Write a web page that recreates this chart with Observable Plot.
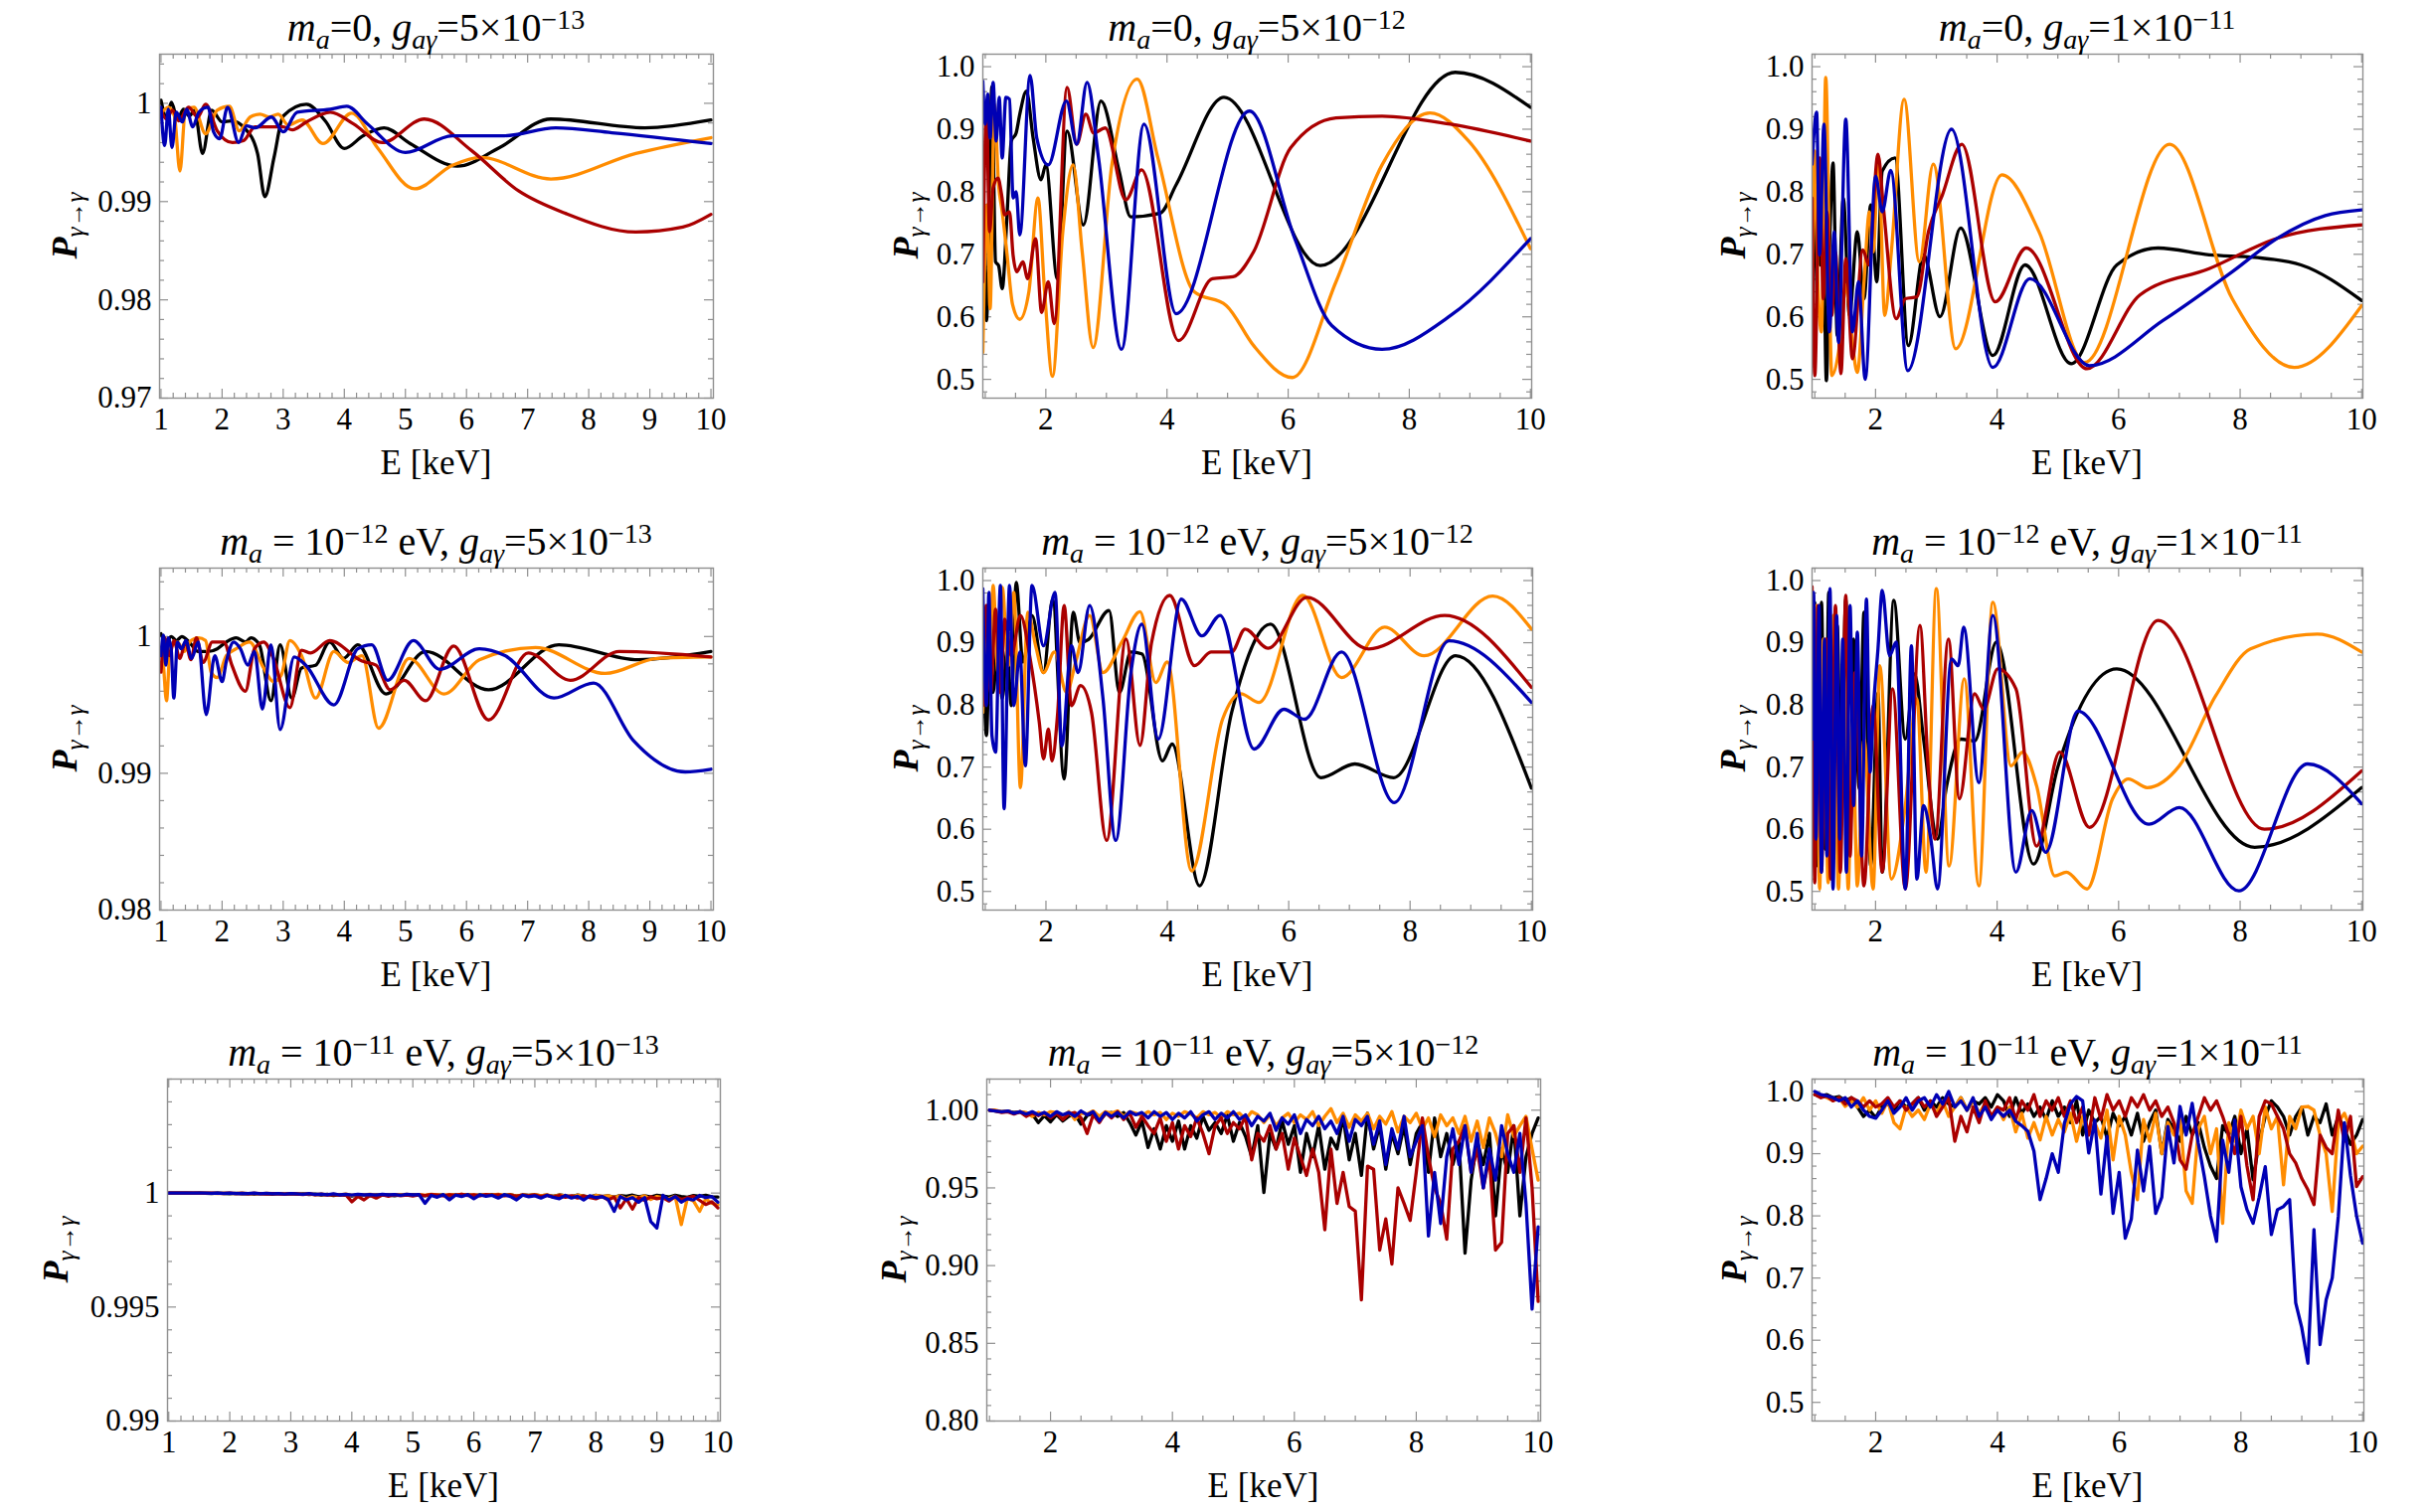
<!DOCTYPE html>
<html><head><meta charset="utf-8">
<script src="https://cdn.jsdelivr.net/npm/d3@7"></script>
<script src="https://cdn.jsdelivr.net/npm/@observablehq/plot@0.6"></script>
<style>
html,body{margin:0;padding:0;background:#fff;}
#root{position:relative;width:2444px;height:1521px;overflow:hidden;font-family:"Liberation Serif","Times New Roman",serif;color:#000;}
.t{position:absolute;font-size:40px;line-height:1;white-space:nowrap;transform:translateX(-50%);padding-top:2px;}
.t sub,.yl sub{font-size:0.7em;position:relative;top:0.28em;vertical-align:baseline;line-height:0;}
.t sup{font-size:0.7em;position:relative;top:-0.44em;vertical-align:baseline;line-height:0;}
.xl{position:absolute;font-size:35px;line-height:1;white-space:nowrap;transform:translate(-50%,-50%);}
.yl{position:absolute;font-size:36px;line-height:1;white-space:nowrap;transform:translate(-50%,-50%) rotate(-90deg);}
svg text{font-family:"Liberation Serif","Times New Roman",serif;}
</style></head>
<body><div id="root"></div>
<script>
// ---------------- DATA ----------------
const SERIES_NAMES = ["black", "orange", "red", "blue"];
const SERIES_COLORS = ["#000000", "#ff8c00", "#aa0000", "#0000b4"];
const MASS_LABELS = ["=0, ", " = 10<sup>−12</sup> eV, ", " = 10<sup>−11</sup> eV, "];
const COUPLING_LABELS = ["5×10<sup>−13</sup>", "5×10<sup>−12</sup>", "1×10<sup>−11</sup>"];
const X_TICKS_COL1 = [1,2,3,4,5,6,7,8,9,10];
const X_TICKS_COL23 = [2,4,6,8,10];
const Y_TICKS_P1 = [0.97,0.98,0.99,1];
const Y_TICKS_P4 = [0.98,0.99,1];
const Y_TICKS_P7 = [0.99,0.995,1];
const Y_TICKS_P8 = [0.80,0.85,0.90,0.95,1.00];
const Y_TICKS_TENTHS = [0.5,0.6,0.7,0.8,0.9,1.0];
// energy grid (keV) of the sampled noisy curves (row 3)
const E_GRID = d3.range(0, 91).map(i => Math.round((1 + i * 0.1) * 10) / 10);

// Row 1: m_a = 0
const p1Black = [[1.0,1.0003],[1.09,0.9986],[1.17,1.0001],[1.27,0.9984],[1.37,0.9994],[1.46,0.9987],[1.55,0.9993],[1.68,0.9949],[1.83,0.9993],[2.0,0.9981],[2.15,0.9982],[2.38,0.9974],[2.58,0.9949],[2.7,0.9905],[2.85,0.9945],[3.0,0.9987],[3.38,0.9999],[3.69,0.9982],[4.0,0.9954],[4.31,0.9967],[4.65,0.9975],[5.08,0.9959],[5.85,0.9936],[6.54,0.9955],[7.38,0.9984],[8.92,0.9975],[10.0,0.9983]];
const p1Orange = [[1.0,0.9989],[1.12,0.9996],[1.22,0.9987],[1.31,0.9931],[1.4,0.9993],[1.54,0.9996],[1.73,0.9969],[1.92,0.9993],[2.12,0.9997],[2.28,0.9972],[2.46,0.9986],[2.62,0.9989],[2.77,0.9986],[2.92,0.9989],[3.08,0.9978],[3.31,0.9983],[3.65,0.9959],[4.12,0.999],[4.54,0.9955],[5.15,0.9913],[5.77,0.9937],[6.23,0.9945],[7.38,0.9923],[8.77,0.9949],[10.0,0.9965]];
const p1Red = [[1.0,0.9993],[1.09,0.9984],[1.19,0.9993],[1.29,0.9982],[1.45,0.9996],[1.6,0.9986],[1.73,0.9999],[1.92,0.9972],[2.17,0.996],[2.35,0.9962],[2.54,0.9976],[3.0,0.9976],[3.15,0.9973],[3.38,0.9981],[3.77,0.9991],[4.15,0.9979],[4.62,0.996],[5.31,0.9984],[6.08,0.9952],[6.85,0.9911],[7.62,0.9888],[8.77,0.9869],[9.54,0.9874],[10.0,0.9887]];
const p1Blue = [[1.0,0.9996],[1.06,0.9957],[1.12,0.9994],[1.18,0.9955],[1.25,0.9991],[1.35,0.9981],[1.42,0.9994],[1.52,0.9976],[1.62,0.9991],[1.77,0.9996],[1.86,0.9971],[1.96,0.9964],[2.09,0.9996],[2.27,0.996],[2.4,0.9977],[2.54,0.9975],[2.81,0.9986],[3.0,0.9971],[3.23,0.9991],[3.77,0.9994],[4.04,0.9997],[4.38,0.9979],[5.0,0.995],[5.77,0.9967],[6.62,0.9967],[7.46,0.9975],[8.38,0.997],[10.0,0.9959]];

const p2Black = [[0.96,0.867],[1.02,0.594],[1.11,0.968],[1.17,0.688],[1.22,0.682],[1.28,0.645],[1.36,0.763],[1.43,0.881],[1.51,0.894],[1.57,0.924],[1.68,0.961],[1.79,0.886],[1.92,0.819],[2.0,0.843],[2.19,0.661],[2.35,0.897],[2.62,0.747],[2.91,0.945],[3.21,0.833],[3.4,0.76],[3.89,0.766],[4.15,0.811],[4.94,0.951],[6.53,0.682],[8.76,0.991],[10.0,0.935]];
const p2Orange = [[0.96,0.543],[1.03,0.779],[1.08,0.613],[1.15,0.94],[1.22,0.811],[1.28,0.768],[1.36,0.7],[1.45,0.62],[1.57,0.596],[1.72,0.64],[1.87,0.79],[1.98,0.64],[2.11,0.505],[2.28,0.736],[2.45,0.843],[2.6,0.704],[2.78,0.551],[3.09,0.843],[3.51,0.98],[3.85,0.854],[4.45,0.64],[4.98,0.618],[5.43,0.554],[6.07,0.503],[6.79,0.656],[7.55,0.843],[8.34,0.926],[8.98,0.881],[10.0,0.709]];
const p2Red = [[0.96,0.656],[1.02,0.935],[1.07,0.736],[1.13,0.806],[1.21,0.822],[1.27,0.795],[1.32,0.763],[1.4,0.768],[1.46,0.698],[1.52,0.672],[1.62,0.688],[1.7,0.661],[1.83,0.725],[1.93,0.607],[2.04,0.656],[2.14,0.589],[2.35,0.967],[2.51,0.876],[2.66,0.924],[2.79,0.894],[2.98,0.902],[3.32,0.787],[3.58,0.835],[4.19,0.562],[4.75,0.661],[5.09,0.664],[5.43,0.704],[6.04,0.87],[6.79,0.918],[7.55,0.921],[8.68,0.908],[10.0,0.881]];
const p2Blue = [[0.96,0.977],[1.0,0.908],[1.04,0.956],[1.08,0.886],[1.13,0.975],[1.18,0.881],[1.23,0.951],[1.28,0.854],[1.34,0.951],[1.4,0.948],[1.46,0.79],[1.51,0.8],[1.57,0.731],[1.74,0.986],[1.85,0.886],[2.04,0.843],[2.34,0.945],[2.51,0.876],[2.68,0.975],[2.87,0.854],[3.25,0.548],[3.62,0.908],[4.15,0.605],[5.36,0.929],[6.11,0.725],[6.72,0.586],[7.55,0.548],[8.68,0.602],[10.0,0.725]];

const p3Black = [[0.955,0.549],[1.03,0.785],[1.09,0.683],[1.14,0.736],[1.19,0.498],[1.25,0.736],[1.3,0.846],[1.37,0.57],[1.47,0.79],[1.57,0.602],[1.7,0.736],[1.81,0.629],[1.92,0.779],[2.02,0.656],[2.11,0.833],[2.32,0.854],[2.54,0.554],[2.79,0.699],[3.06,0.6],[3.4,0.742],[3.93,0.538],[4.46,0.683],[5.22,0.525],[5.97,0.683],[6.65,0.71],[7.49,0.699],[8.24,0.695],[9.0,0.683],[10.0,0.626]];
const p3Orange = [[0.955,0.586],[1.0,0.865],[1.05,0.656],[1.11,0.576],[1.18,0.983],[1.28,0.506],[1.39,0.543],[1.51,0.651],[1.6,0.576],[1.7,0.511],[1.81,0.656],[1.9,0.768],[1.96,0.704],[2.05,0.854],[2.15,0.602],[2.26,0.704],[2.47,0.948],[2.72,0.688],[2.95,0.844],[3.32,0.549],[4.08,0.827],[4.69,0.736],[5.44,0.527],[6.84,0.876],[7.87,0.629],[8.89,0.519],[10.0,0.618]];
const p3Red = [[0.955,0.79],[1.0,0.506],[1.08,0.854],[1.14,0.629],[1.2,0.768],[1.28,0.602],[1.34,0.704],[1.43,0.509],[1.51,0.693],[1.62,0.533],[1.79,0.707],[1.89,0.683],[2.04,0.86],[2.13,0.774],[2.34,0.597],[2.49,0.629],[2.68,0.632],[2.87,0.736],[3.1,0.795],[3.42,0.876],[3.97,0.624],[4.48,0.71],[5.48,0.517],[6.35,0.635],[7.49,0.677],[8.62,0.726],[10.0,0.747]];
const p3Blue = [[0.955,0.844],[1.03,0.927],[1.08,0.699],[1.15,0.908],[1.24,0.576],[1.32,0.736],[1.39,0.559],[1.51,0.916],[1.62,0.576],[1.72,0.656],[1.83,0.5],[2.0,0.825],[2.11,0.768],[2.25,0.834],[2.53,0.514],[3.25,0.9],[3.93,0.519],[4.54,0.661],[5.52,0.522],[6.73,0.594],[7.87,0.672],[8.6,0.725],[9.4,0.762],[10.0,0.771]];

// Row 2: m_a = 1e-12 eV
const p4Black = [[1.0,1.0002],[1.08,0.9996],[1.17,1.0],[1.25,0.9997],[1.34,1.0],[1.46,0.9996],[1.61,0.9989],[1.77,0.9989],[1.92,0.9991],[2.07,0.9996],[2.23,0.9999],[2.38,0.9996],[2.47,0.9999],[2.61,0.9994],[2.8,0.9953],[2.95,0.9994],[3.14,0.9955],[3.3,0.9977],[3.53,0.9979],[3.76,0.9996],[3.99,0.9984],[4.22,0.9994],[4.68,0.9958],[5.33,0.9989],[6.36,0.9961],[7.51,0.9994],[8.81,0.9983],[10.0,0.9989]];
const p4Orange = [[1.0,0.9991],[1.04,0.9979],[1.09,0.9953],[1.15,0.9991],[1.27,0.9996],[1.38,0.9989],[1.47,0.9996],[1.61,0.9999],[1.73,0.9997],[1.82,0.9974],[1.92,0.997],[2.07,0.9986],[2.23,0.9991],[2.45,0.9996],[2.68,0.9977],[2.84,0.9967],[2.97,0.9972],[3.11,0.9997],[3.3,0.9986],[3.53,0.9955],[3.83,0.9989],[4.06,0.9981],[4.29,0.9986],[4.56,0.9933],[5.06,0.9984],[5.63,0.9958],[6.21,0.9983],[7.13,0.9992],[8.27,0.9973],[9.12,0.9984],[10.0,0.9985]];
const p4Red = [[1.0,0.9974],[1.06,0.9999],[1.14,0.9986],[1.21,0.9997],[1.31,0.9984],[1.4,0.9996],[1.49,0.9983],[1.58,0.9999],[1.69,0.9981],[1.84,0.9996],[2.03,0.9996],[2.16,0.9979],[2.38,0.996],[2.53,0.9991],[2.68,0.9996],[2.84,0.9984],[3.11,0.9948],[3.3,0.999],[3.45,0.9988],[3.76,0.9997],[4.29,0.9982],[4.52,0.9979],[4.75,0.9961],[4.98,0.9968],[5.33,0.9953],[5.79,0.9993],[6.36,0.9939],[7.01,0.9988],[7.7,0.9968],[8.5,0.9989],[10.0,0.9985]];
const p4Blue = [[1.0,0.9986],[1.04,1.0001],[1.08,0.9979],[1.12,0.9999],[1.17,0.9989],[1.21,0.9955],[1.27,0.9996],[1.33,0.9991],[1.41,0.9997],[1.5,0.9984],[1.61,0.9996],[1.74,0.9943],[1.88,0.9986],[2.0,0.9967],[2.07,0.9982],[2.19,0.9996],[2.3,0.9991],[2.42,0.9979],[2.53,0.9989],[2.66,0.9947],[2.8,0.9994],[2.95,0.9932],[3.18,0.9985],[3.37,0.9979],[3.83,0.995],[4.22,0.9991],[4.45,0.9994],[4.71,0.9968],[5.13,0.9997],[5.56,0.9976],[6.21,0.9991],[6.63,0.9986],[7.43,0.9955],[8.08,0.9966],[8.73,0.9924],[9.58,0.9901],[10.0,0.9903]];

const p5Black = [[0.96,0.906],[1.02,0.751],[1.07,0.879],[1.13,0.82],[1.21,0.906],[1.28,0.81],[1.36,0.89],[1.43,0.799],[1.51,0.997],[1.62,0.869],[1.77,0.944],[1.96,0.852],[2.11,0.97],[2.3,0.681],[2.45,0.949],[2.56,0.9],[2.7,0.905],[3.04,0.952],[3.21,0.82],[3.4,0.885],[3.58,0.882],[3.92,0.71],[4.08,0.737],[4.53,0.509],[5.06,0.788],[5.7,0.93],[6.53,0.683],[7.09,0.705],[7.73,0.683],[8.75,0.879],[10.0,0.666]];
const p5Orange = [[0.96,0.788],[1.02,0.96],[1.07,0.852],[1.13,0.992],[1.21,0.852],[1.28,0.989],[1.38,0.863],[1.47,0.981],[1.58,0.667],[1.7,0.949],[1.83,0.895],[1.96,0.852],[2.14,0.885],[2.34,0.82],[2.49,0.869],[2.72,0.944],[2.94,0.852],[3.25,0.901],[3.55,0.95],[3.81,0.836],[4.0,0.869],[4.4,0.533],[4.91,0.777],[5.21,0.818],[5.51,0.804],[6.23,0.976],[6.87,0.844],[7.58,0.925],[8.23,0.879],[9.36,0.975],[10.0,0.922]];
const p5Red = [[0.96,0.799],[1.02,0.96],[1.09,0.82],[1.17,0.954],[1.25,0.82],[1.32,0.938],[1.43,0.879],[1.58,0.944],[1.74,0.874],[1.89,0.772],[1.96,0.713],[2.04,0.761],[2.1,0.71],[2.19,0.783],[2.3,0.96],[2.42,0.799],[2.57,0.831],[2.75,0.788],[3.0,0.582],[3.32,0.906],[3.55,0.735],[3.74,0.9],[4.04,0.976],[4.45,0.863],[4.72,0.885],[5.06,0.885],[5.28,0.922],[5.66,0.891],[6.3,0.973],[7.32,0.89],[8.57,0.944],[10.0,0.828]];
const p5Blue = [[0.96,0.987],[1.02,0.799],[1.06,0.981],[1.11,0.751],[1.17,0.724],[1.25,0.992],[1.31,0.633],[1.4,0.992],[1.47,0.799],[1.57,0.885],[1.66,0.702],[1.77,0.992],[1.96,0.895],[2.15,0.981],[2.26,0.734],[2.42,0.895],[2.53,0.852],[2.72,0.96],[2.94,0.81],[3.15,0.582],[3.4,0.852],[3.58,0.93],[3.85,0.745],[4.23,0.97],[4.57,0.911],[4.87,0.944],[5.43,0.729],[5.92,0.793],[6.26,0.777],[6.87,0.885],[7.74,0.643],[8.64,0.903],[10.0,0.804]];

const p6Black = [[0.955,0.799],[1.0,0.965],[1.05,0.541],[1.11,0.965],[1.17,0.568],[1.23,0.981],[1.3,0.584],[1.37,0.928],[1.43,0.638],[1.51,0.97],[1.58,0.584],[1.64,0.906],[1.73,0.665],[1.81,0.949],[1.92,0.541],[2.04,0.82],[2.11,0.531],[2.3,0.968],[2.49,0.745],[2.64,0.85],[2.79,0.745],[3.02,0.584],[3.17,0.67],[3.4,0.745],[3.63,0.742],[3.99,0.901],[4.6,0.544],[5.0,0.7],[5.97,0.858],[8.24,0.571],[10.0,0.667]];
const p6Orange = [[0.955,0.675],[1.02,0.96],[1.08,0.504],[1.14,0.906],[1.22,0.514],[1.3,0.944],[1.39,0.504],[1.47,0.852],[1.55,0.504],[1.62,0.772],[1.7,0.509],[1.81,0.745],[1.96,0.504],[2.07,0.863],[2.26,0.52],[2.49,0.638],[2.68,0.81],[2.83,0.531],[3.0,0.987],[3.21,0.541],[3.46,0.842],[3.7,0.509],[3.93,0.965],[4.23,0.702],[4.42,0.724],[4.65,0.67],[4.95,0.525],[5.14,0.531],[5.48,0.504],[5.9,0.649],[6.16,0.681],[6.47,0.667],[7.0,0.702],[7.6,0.815],[8.17,0.89],[9.27,0.914],[10.0,0.885]];
const p6Red = [[0.955,0.99],[1.0,0.514],[1.05,0.96],[1.11,0.531],[1.19,0.906],[1.26,0.52],[1.34,0.96],[1.42,0.531],[1.51,0.976],[1.58,0.557],[1.66,0.852],[1.81,0.509],[1.96,0.799],[2.11,0.531],[2.28,0.826],[2.49,0.504],[2.73,0.928],[2.87,0.692],[2.98,0.584],[3.2,0.906],[3.38,0.649],[3.63,0.818],[3.78,0.793],[4.01,0.858],[4.31,0.826],[4.65,0.573],[5.03,0.724],[5.52,0.603],[6.65,0.936],[8.4,0.6],[10.0,0.694]];
const p6Blue = [[0.955,0.745],[0.98,0.981],[1.02,0.584],[1.07,0.96],[1.11,0.531],[1.16,0.906],[1.2,0.557],[1.25,0.987],[1.3,0.504],[1.36,0.944],[1.41,0.584],[1.46,0.906],[1.52,0.531],[1.58,0.96],[1.64,0.638],[1.7,0.917],[1.77,0.557],[1.85,0.97],[1.91,0.692],[1.96,0.788],[2.04,0.89],[2.11,0.984],[2.23,0.879],[2.34,0.901],[2.49,0.504],[2.59,0.895],[2.68,0.52],[2.79,0.638],[2.91,0.584],[3.02,0.504],[3.25,0.874],[3.36,0.863],[3.45,0.925],[3.7,0.675],[3.93,0.944],[4.31,0.531],[4.57,0.63],[4.8,0.563],[5.33,0.79],[6.5,0.608],[7.0,0.635],[7.98,0.501],[9.11,0.705],[10.0,0.641]];

// Row 3: m_a = 1e-11 eV (values on E_GRID)
const p7Black = [1,1,1,1,0.99999,1,0.99999,0.99998,1,0.99998,0.99997,
0.99999,0.99997,0.99998,0.99996,0.99998,0.99997,0.99995,0.99998,0.99996,0.99997,
0.99995,0.99997,0.99994,0.99996,0.99992,0.99995,0.99989,0.99994,0.9999,0.99987,
0.99993,0.9999,0.99988,0.99993,0.9999,0.99992,0.99988,0.99993,0.9999,0.99994,
0.9999,0.99988,0.99993,0.9999,0.99992,0.99987,0.99993,0.9999,0.99994,0.99988,
0.99992,0.9999,0.99994,0.99988,0.99991,0.99993,0.99987,0.99992,0.9999,0.99993,
0.99988,0.99991,0.99986,0.99992,0.99988,0.99985,0.99991,0.99987,0.99983,0.9999,
0.99985,0.99988,0.99982,0.99989,0.99986,0.99991,0.99984,0.99988,0.99983,0.9999,
0.99987,0.99983,0.9999,0.99985,0.99982,0.99989,0.99986,0.9999,0.99984,0.99983];
const p7Orange = [1,1,1,1,1,0.99999,1,0.99999,0.99998,1,0.99999,
0.99998,1,0.99998,0.99999,0.99997,0.99999,0.99998,0.99996,0.99998,0.99997,
0.99998,0.99995,0.99997,0.99993,0.99996,0.99992,0.99995,0.99993,0.99996,0.9999,
0.99994,0.99992,0.99995,0.99991,0.99994,0.9999,0.99994,0.99992,0.99995,0.99991,
0.99994,0.9999,0.99995,0.99992,0.99989,0.99994,0.99991,0.99995,0.9999,0.99993,
0.99989,0.99994,0.99991,0.99995,0.99989,0.99993,0.99987,0.99992,0.99989,0.99994,
0.99988,0.99992,0.99985,0.99991,0.99988,0.99984,0.99991,0.99986,0.99982,0.9999,
0.99985,0.99988,0.99981,0.99988,0.99975,0.99985,0.9998,0.99988,0.99972,0.99985,
0.9998,0.99975,0.99986,0.99862,0.99978,0.99965,0.9992,0.99975,0.99955,0.99949];
const p7Red = [1,1,1,1,1,1,0.99999,1,0.99999,0.99998,1,
0.99998,0.99999,0.99997,0.99999,0.99998,0.99996,0.99998,0.99997,0.99995,0.99998,
0.99996,0.99994,0.99997,0.99993,0.99995,0.99991,0.99994,0.9999,0.99993,0.99962,
0.99985,0.9997,0.9999,0.99978,0.99992,0.99986,0.99993,0.99988,0.99991,0.99987,
0.99992,0.99989,0.99994,0.99991,0.99988,0.99993,0.9999,0.99995,0.99989,0.99992,
0.99988,0.99994,0.9999,0.99993,0.99988,0.99992,0.99986,0.99991,0.99988,0.99992,
0.99985,0.9999,0.99983,0.99989,0.99982,0.99988,0.99978,0.99987,0.9998,0.99975,
0.99986,0.9997,0.99982,0.99935,0.99975,0.9993,0.9998,0.99968,0.99984,0.99975,
0.9998,0.99965,0.99985,0.99972,0.9998,0.99986,0.99968,0.9995,0.99962,0.99935];
const p7Blue = [1,1,1,1,1,1,1,0.99999,1,0.99999,1,
0.99998,0.99999,0.99998,1,0.99997,0.99999,0.99997,0.99998,0.99996,0.99998,
0.99997,0.99995,0.99998,0.99994,0.99996,0.99993,0.99997,0.99992,0.99995,0.99991,
0.99995,0.99992,0.99994,0.99991,0.99995,0.99992,0.99994,0.9999,0.99995,0.99992,
0.99994,0.99955,0.9999,0.99982,0.99993,0.9997,0.99991,0.99985,0.99993,0.99975,
0.99992,0.99986,0.9999,0.99978,0.99993,0.99985,0.9997,0.99991,0.99984,0.99988,
0.99978,0.9999,0.99982,0.99975,0.9999,0.99978,0.99986,0.9997,0.99988,0.9998,
0.99984,0.99972,0.9992,0.99985,0.9997,0.9998,0.9996,0.9998,0.99875,0.99847,
0.9999,0.9997,0.99985,0.9996,0.99975,0.9997,0.9999,0.9998,0.99985,0.9996];

const p8Black = [1.0,0.9995,0.999,0.9993,0.9985,0.999,0.998,0.9975,0.992,0.9965,0.9925,
0.997,0.993,0.996,0.9975,0.991,0.9965,0.998,0.993,0.9975,0.9985,
0.996,0.9985,0.992,0.984,0.993,0.976,0.988,0.975,0.99,0.98,
0.993,0.975,0.99,0.982,0.996,0.987,0.992,0.985,0.997,0.98,
0.992,0.983,0.97,0.99,0.947,0.985,0.975,0.993,0.978,0.99,
0.96,0.985,0.97,0.99,0.962,0.982,0.975,0.996,0.968,0.985,
0.958,0.998,0.975,0.99,0.962,0.985,0.972,0.99,0.965,0.985,
0.992,0.96,0.995,0.97,0.985,0.965,0.98,0.908,0.955,0.98,
0.965,0.985,0.932,0.975,0.96,0.99,0.932,0.97,0.985,0.995];
const p8Orange = [1.0,1.0,0.999,0.9995,0.998,0.999,0.9985,0.996,0.9985,0.997,0.999,
0.9985,0.996,0.999,0.994,0.998,0.9975,0.9995,0.996,0.999,0.998,
0.9995,0.996,0.999,0.998,0.9965,0.999,0.997,0.9985,0.994,0.998,
0.996,0.999,0.9975,0.995,0.999,0.997,0.9985,0.995,0.999,0.997,
0.998,0.994,0.999,0.997,0.992,0.997,0.99,0.995,0.998,0.992,
0.997,0.994,0.999,0.99,0.996,1.001,0.992,0.998,0.989,0.997,
0.993,0.998,0.988,0.996,0.991,0.999,0.986,0.996,0.992,0.998,
0.988,0.995,0.983,0.997,0.99,0.995,0.985,0.996,0.98,0.993,
0.976,0.995,0.985,0.97,0.997,0.983,0.99,0.996,0.975,0.955];
const p8Red = [1.0,0.9995,0.9985,0.999,0.9975,0.999,0.996,0.998,0.9965,0.9985,0.995,
0.998,0.994,0.9975,0.9985,0.995,0.985,0.997,0.992,0.9985,0.995,
0.999,0.994,0.998,0.989,0.996,0.99,0.985,0.995,0.98,0.992,
0.975,0.99,0.983,0.995,0.985,0.972,0.99,0.995,0.985,0.992,
0.988,0.996,0.968,0.985,0.98,0.99,0.975,0.985,0.962,0.982,
0.97,0.958,0.975,0.96,0.923,0.975,0.94,0.96,0.938,0.935,
0.878,0.964,0.962,0.91,0.93,0.901,0.95,0.94,0.929,0.96,
0.995,0.97,0.95,0.94,0.917,0.975,0.98,0.99,0.96,0.975,
0.95,0.97,0.91,0.915,0.985,0.99,0.96,0.995,0.95,0.877];
const p8Blue = [1.0,0.9995,0.999,0.9995,0.998,0.999,0.9975,0.999,0.997,0.9985,0.996,
0.999,0.997,0.9985,0.996,0.9995,0.997,0.999,0.993,0.9985,0.996,
0.9985,0.995,0.999,0.997,0.9985,0.995,0.999,0.996,0.9985,0.994,
0.998,0.995,0.999,0.993,0.997,0.999,0.994,0.998,0.995,0.999,
0.994,0.997,0.99,0.996,0.993,0.998,0.987,0.995,0.991,0.997,
0.985,0.994,0.99,0.996,0.988,0.993,0.985,0.996,0.98,0.994,
0.99,0.996,0.978,0.993,0.965,0.988,0.975,0.996,0.97,0.98,
0.99,0.919,0.96,0.927,0.97,0.988,0.965,0.99,0.96,0.985,
0.95,0.975,0.955,0.99,0.972,0.96,0.985,0.94,0.872,0.925];

const p9Black = [0.995,0.993,0.995,0.99,0.992,0.985,0.99,0.975,0.96,0.97,0.958,
0.975,0.98,0.97,0.985,0.975,0.98,0.99,0.97,0.985,0.975,
0.99,0.98,0.975,0.99,0.97,0.985,0.98,0.99,0.975,0.995,
0.985,0.96,0.99,0.965,0.98,0.96,0.975,0.955,0.985,0.96,
0.975,0.95,0.985,0.93,0.97,0.95,0.96,0.925,0.965,0.945,
0.96,0.93,0.965,0.92,0.95,0.97,0.9,0.955,0.94,0.92,
0.96,0.93,0.95,0.91,0.88,0.86,0.945,0.93,0.96,0.9,
0.94,0.858,0.92,0.96,0.985,0.975,0.96,0.93,0.96,0.975,
0.93,0.96,0.95,0.98,0.93,0.96,0.94,0.915,0.93,0.955];
const p9Orange = [0.995,0.994,0.99,0.985,0.99,0.976,0.985,0.975,0.99,0.97,0.985,
0.965,0.985,0.95,0.94,0.975,0.96,0.97,0.955,0.98,0.965,
0.985,0.96,0.975,0.99,0.97,0.985,0.965,0.98,0.96,0.975,
0.955,0.975,0.935,0.965,0.925,0.95,0.922,0.96,0.93,0.955,
0.935,0.965,0.92,0.96,0.93,0.95,0.925,0.97,0.89,0.96,
0.93,0.869,0.826,0.955,0.92,0.965,0.9,0.95,0.93,0.96,
0.84,0.82,0.94,0.96,0.9,0.94,0.788,0.95,0.92,0.97,
0.94,0.96,0.9,0.975,0.94,0.96,0.85,0.96,0.94,0.975,
0.976,0.97,0.93,0.9,0.807,0.95,0.965,0.94,0.9,0.912];
const p9Red = [0.995,0.99,0.993,0.985,0.99,0.98,0.99,0.985,0.975,0.985,0.975,
0.98,0.99,0.975,0.985,0.97,0.98,0.99,0.975,0.985,0.96,
0.975,0.99,0.92,0.96,0.935,0.975,0.95,0.985,0.96,0.975,
0.97,0.99,0.955,0.985,0.97,0.995,0.96,0.985,0.97,0.99,
0.96,0.985,0.95,0.975,0.93,0.99,0.955,0.995,0.97,0.985,
0.96,0.99,0.975,0.995,0.97,0.985,0.96,0.975,0.95,0.89,
0.875,0.93,0.96,0.99,0.97,0.985,0.96,0.93,0.9,0.96,
0.88,0.826,0.96,0.985,0.98,0.96,0.94,0.9,0.885,0.86,
0.842,0.818,0.93,0.91,0.9,0.97,0.92,0.96,0.847,0.863];
const p9Blue = [1.0,0.995,0.993,0.99,0.985,0.99,0.975,0.985,0.97,0.96,0.957,
0.97,0.985,0.965,0.975,0.99,0.97,0.985,0.99,0.975,0.995,
0.98,1.0,0.975,0.985,0.97,0.99,0.96,0.975,0.955,0.97,
0.96,0.97,0.952,0.945,0.936,0.904,0.826,0.86,0.9,0.87,
0.949,0.98,0.992,0.985,0.901,0.954,0.835,0.928,0.804,0.87,
0.764,0.795,0.906,0.84,0.912,0.804,0.83,0.944,0.885,0.976,
0.93,0.981,0.917,0.863,0.8,0.759,0.922,0.87,0.954,0.847,
0.81,0.788,0.83,0.879,0.77,0.81,0.815,0.826,0.66,0.62,
0.563,0.778,0.593,0.665,0.7,0.799,0.95,0.865,0.8,0.756];

// ---------------- LAYOUT ----------------
const fromPairs = arr => arr.map(([E, P]) => ({E, P}));
const fromGrid = arr => arr.map((P, i) => ({E: E_GRID[i], P}));
const f1 = d => d.toFixed(1), f2 = d => d.toFixed(2), fs = d => String(d);

const panels = [
  {frame:[160,54,717,400], xd:[0.977,10.04], yd:[0.97,1.005], xt:X_TICKS_COL1, xm:0.2, yt:Y_TICKS_P1, ym:0.002, yf:fs, s:[p1Black,p1Orange,p1Red,p1Blue].map(fromPairs), curve:"monotone-x", yo:95, row:0, col:0},
  {frame:[988,54,1540,400], xd:[0.96,10.02], yd:[0.47,1.02], xt:X_TICKS_COL23, xm:0.5, yt:Y_TICKS_TENTHS, ym:0.02, yf:f1, s:[p2Black,p2Orange,p2Red,p2Blue].map(fromPairs), curve:"monotone-x", yo:77, row:0, col:1},
  {frame:[1822,54,2376,400], xd:[0.955,10.02], yd:[0.47,1.02], xt:X_TICKS_COL23, xm:0.5, yt:Y_TICKS_TENTHS, ym:0.02, yf:f1, s:[p3Black,p3Orange,p3Red,p3Blue].map(fromPairs), curve:"monotone-x", yo:79, row:0, col:2},
  {frame:[160,571,717,915], xd:[0.977,10.04], yd:[0.98,1.005], xt:X_TICKS_COL1, xm:0.2, yt:Y_TICKS_P4, ym:0.002, yf:fs, s:[p4Black,p4Orange,p4Red,p4Blue].map(fromPairs), curve:"monotone-x", yo:95, row:1, col:0},
  {frame:[988,571,1541,915], xd:[0.96,10.02], yd:[0.47,1.02], xt:X_TICKS_COL23, xm:0.5, yt:Y_TICKS_TENTHS, ym:0.02, yf:f1, s:[p5Black,p5Orange,p5Red,p5Blue].map(fromPairs), curve:"monotone-x", yo:77, row:1, col:1},
  {frame:[1822,571,2376,915], xd:[0.955,10.02], yd:[0.47,1.02], xt:X_TICKS_COL23, xm:0.5, yt:Y_TICKS_TENTHS, ym:0.02, yf:f1, s:[p6Black,p6Orange,p6Red,p6Blue].map(fromPairs), curve:"monotone-x", yo:79, row:1, col:2},
  {frame:[168,1085,724,1429], xd:[0.98,10.04], yd:[0.99,1.005], xt:X_TICKS_COL1, xm:0.2, yt:Y_TICKS_P7, ym:0.001, yf:fs, s:[p7Black,p7Orange,p7Red,p7Blue].map(fromGrid), curve:"linear", yo:112, row:2, col:0},
  {frame:[992,1085,1549,1429], xd:[0.955,10.04], yd:[0.8,1.02], xt:X_TICKS_COL23, xm:0.5, yt:Y_TICKS_P8, ym:0.01, yf:f2, s:[p8Black,p8Orange,p8Red,p8Blue].map(fromGrid), curve:"linear", yo:93, row:2, col:1},
  {frame:[1822,1085,2377,1429], xd:[0.955,10.02], yd:[0.47,1.02], xt:X_TICKS_COL23, xm:0.5, yt:Y_TICKS_TENTHS, ym:0.02, yf:f1, s:[p9Black,p9Orange,p9Red,p9Blue].map(fromGrid), curve:"linear", yo:78, row:2, col:2}
];

function minor(domain, step, majors) {
  const out = [];
  const n0 = Math.ceil(domain[0] / step - 1e-6), n1 = Math.floor(domain[1] / step + 1e-6);
  for (let n = n0; n <= n1; n++) {
    const v = +(n * step).toFixed(6);
    if (!majors.some(m => Math.abs(m - v) < step / 10)) out.push(v);
  }
  return out;
}

const FRAME = "#8f8f8f";
const FONT = "'Liberation Serif','Times New Roman',serif";
const ML = 130, MR = 12, MT = 8, MB = 60;
const root = document.getElementById("root");

panels.forEach(p => {
  const [L, T, R, B] = p.frame;
  const w = R - L, h = B - T;
  const xMinor = minor(p.xd, p.xm, p.xt);
  const yMinor = minor(p.yd, p.ym, p.yt);
  const yMajorIn = p.yt.filter(v => v >= p.yd[0] - 1e-9 && v <= p.yd[1] + 1e-9);
  const tickStyle = {stroke: FRAME, strokeWidth: 1.2};
  const marks = [
    Plot.tickX(p.xt, {x: d => d, insetTop: h - 9, ...tickStyle}),
    Plot.tickX(p.xt, {x: d => d, insetBottom: h - 9, ...tickStyle}),
    Plot.tickX(xMinor, {x: d => d, insetTop: h - 5, ...tickStyle}),
    Plot.tickX(xMinor, {x: d => d, insetBottom: h - 5, ...tickStyle}),
    Plot.tickY(yMajorIn, {y: d => d, insetRight: w - 9, ...tickStyle}),
    Plot.tickY(yMajorIn, {y: d => d, insetLeft: w - 9, ...tickStyle}),
    Plot.tickY(yMinor, {y: d => d, insetRight: w - 5, ...tickStyle}),
    Plot.tickY(yMinor, {y: d => d, insetLeft: w - 5, ...tickStyle}),
    Plot.axisX(p.xt, {tickSize: 0, tickPadding: 9, tickFormat: fs, label: null, fontSize: 31, fontFamily: FONT}),
    Plot.axisY(yMajorIn, {tickSize: 0, tickPadding: 8, tickFormat: p.yf, label: null, fontSize: 31, fontFamily: FONT}),
    ...p.s.map((data, k) => Plot.line(data, {x: "E", y: "P", stroke: SERIES_COLORS[k], strokeWidth: 3.3, curve: p.curve, clip: true, strokeLinejoin: "round"})),
    Plot.frame({stroke: FRAME, strokeWidth: 1.4})
  ];
  const svg = Plot.plot({
    width: w + ML + MR, height: h + MT + MB,
    marginLeft: ML, marginRight: MR, marginTop: MT, marginBottom: MB,
    x: {domain: p.xd},
    y: {domain: p.yd},
    style: {fontFamily: FONT, fontSize: "31px", background: "transparent", color: "#000", overflow: "visible"},
    marks
  });
  svg.style.position = "absolute";
  svg.style.left = (L - ML) + "px";
  svg.style.top = (T - MT) + "px";
  svg.style.maxWidth = "none";
  root.appendChild(svg);

  const t = document.createElement("div");
  t.className = "t";
  t.innerHTML = `<i>m</i><sub><i>a</i></sub>${MASS_LABELS[p.row]}<i>g</i><sub><i>aγ</i></sub>=${COUPLING_LABELS[p.col]}`;
  t.style.left = ((L + R) / 2) + "px";
  t.style.top = (T - 48) + "px";
  root.appendChild(t);

  const xl = document.createElement("div");
  xl.className = "xl";
  xl.textContent = "E [keV]";
  xl.style.left = ((L + R) / 2) + "px";
  xl.style.top = (B + 65) + "px";
  root.appendChild(xl);

  const yl = document.createElement("div");
  yl.className = "yl";
  yl.innerHTML = `<b><i>P</i></b><sub><i>γ</i>→<i>γ</i></sub>`;
  yl.style.left = (L - p.yo) + "px";
  yl.style.top = ((T + B) / 2) + "px";
  root.appendChild(yl);
});
</script>
</body></html>
